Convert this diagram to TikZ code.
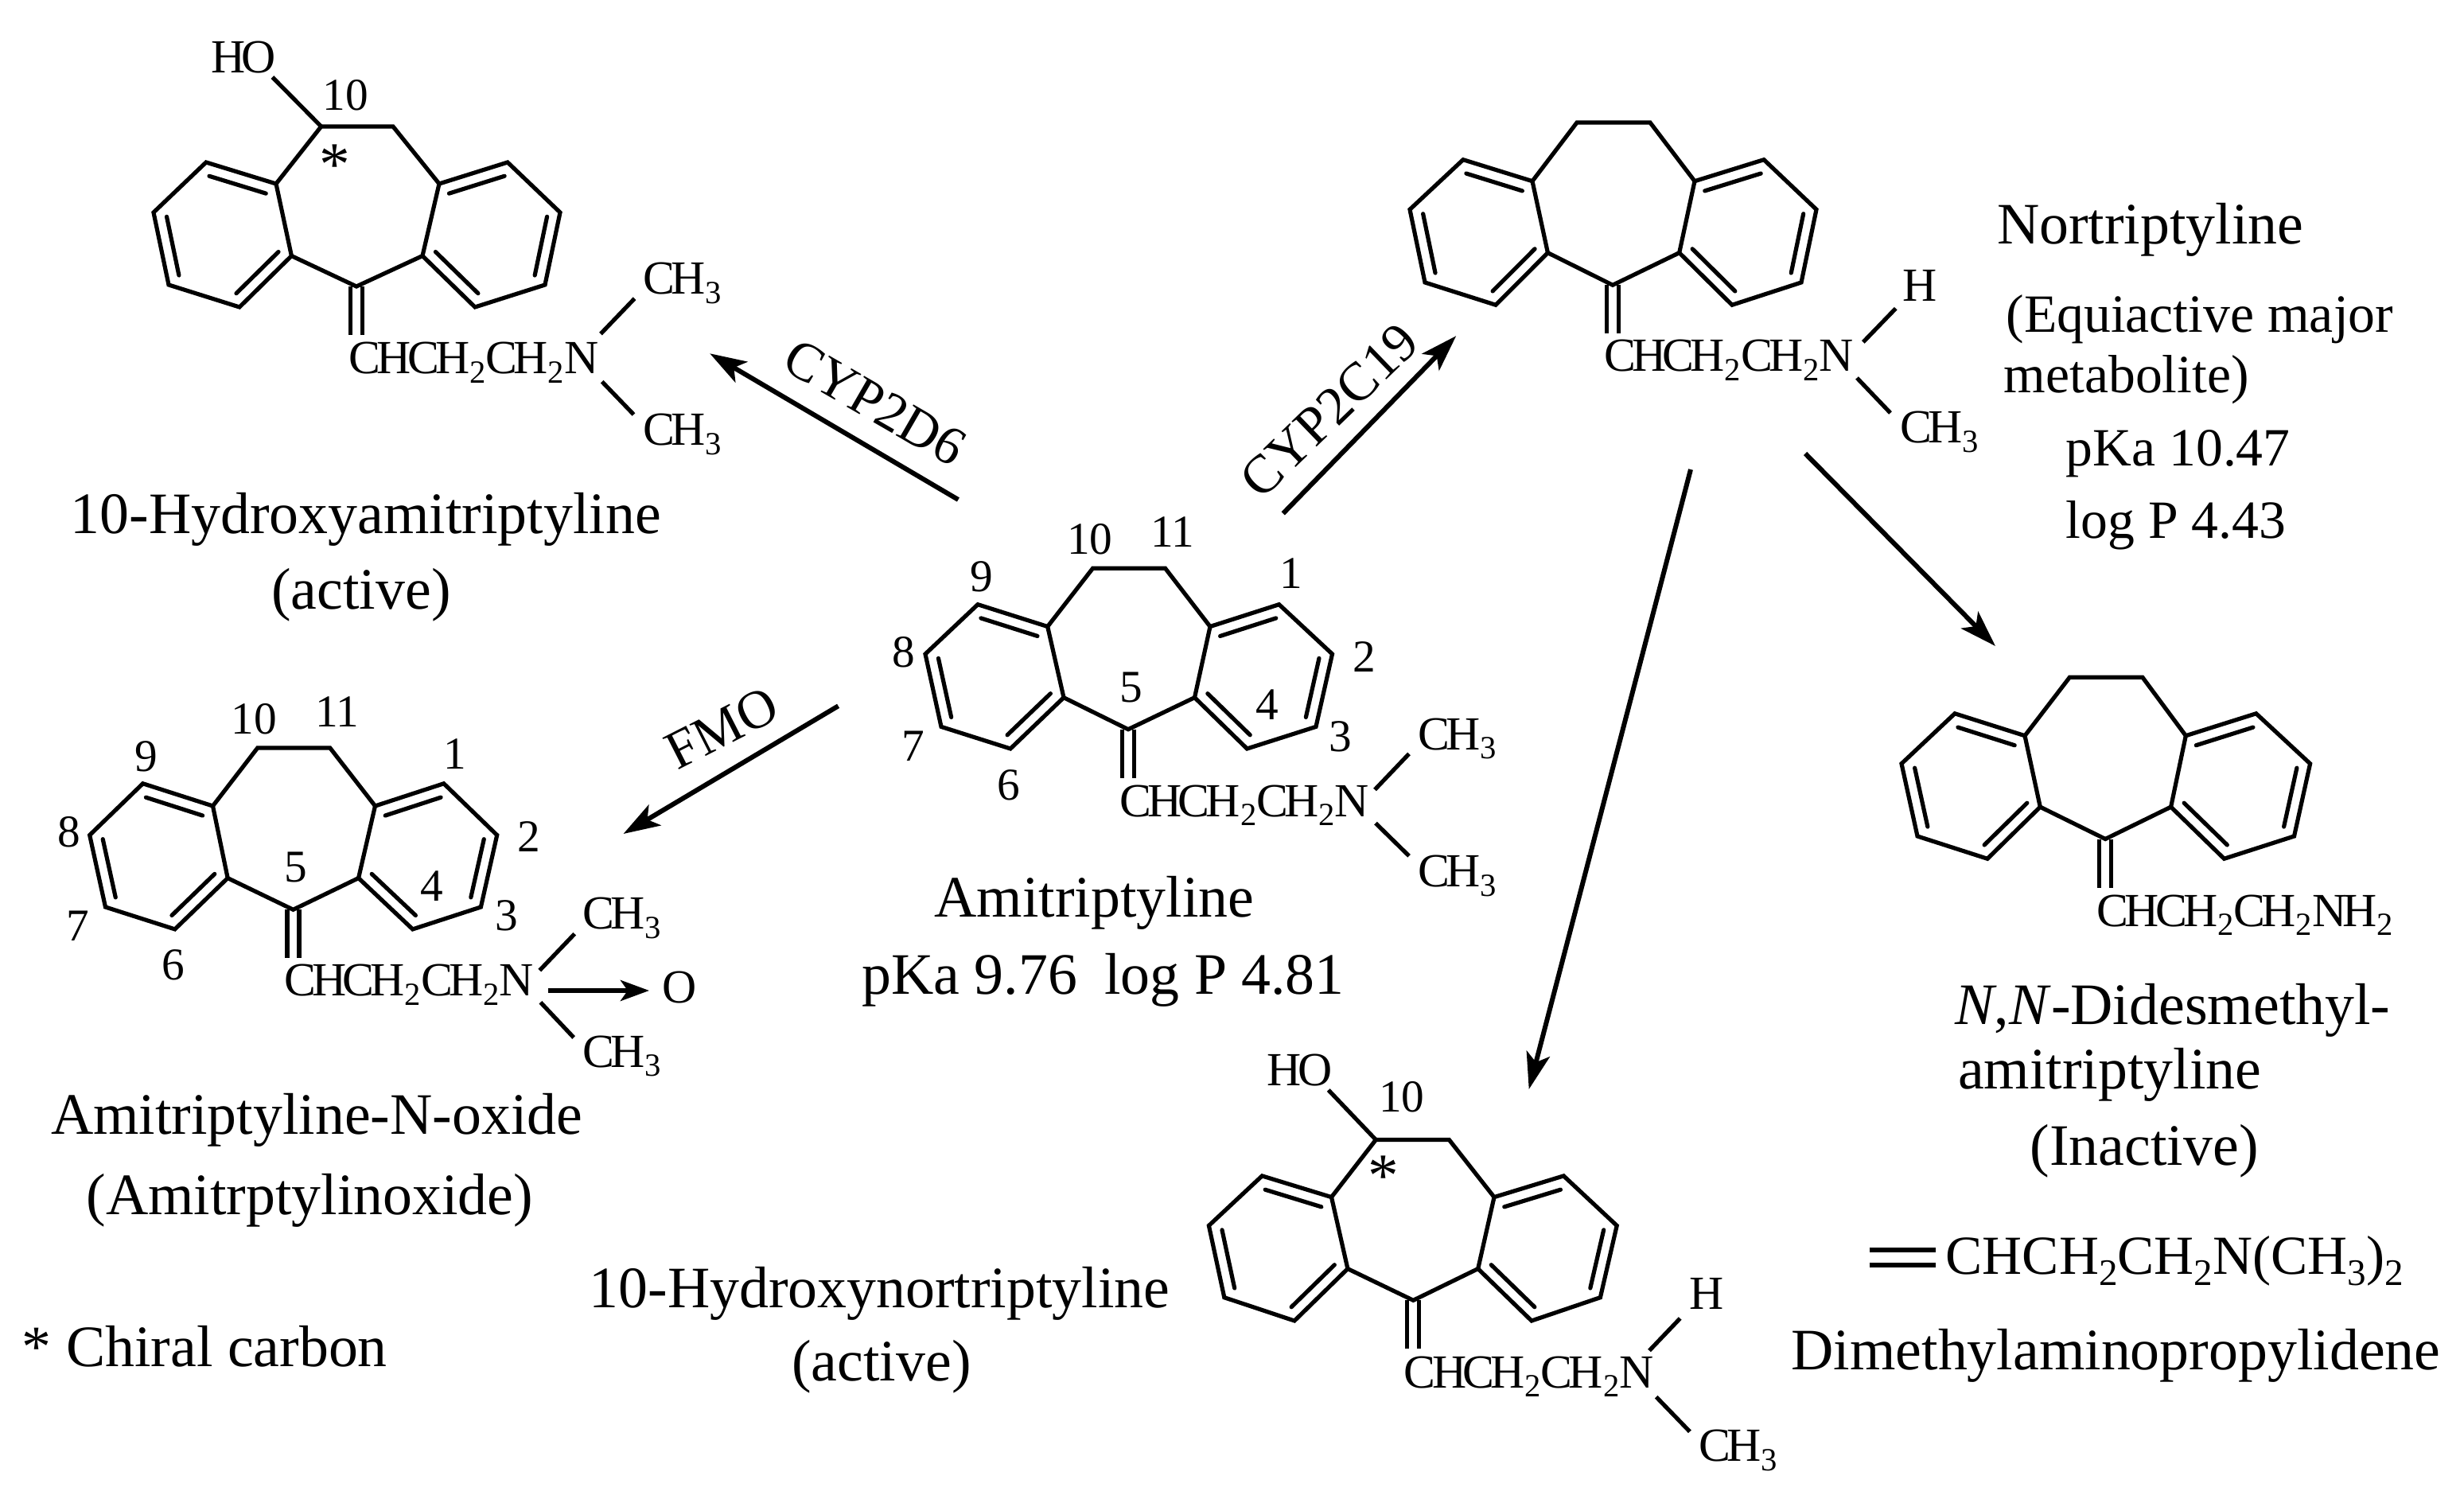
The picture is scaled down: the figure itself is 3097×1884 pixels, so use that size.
\documentclass[tikz,border=0pt]{standalone}
\usepackage{fontspec}
\usepackage{graphicx}
\setmainfont{Liberation Serif}
\newfontfamily\chemfont[LetterSpace=-8]{Liberation Serif}
\usetikzlibrary{arrows.meta,calc}
\newcommand{\ssub}[1]{\raisebox{-.2em}{\scalebox{.68}{#1}}}
\newcommand{\atoms}[2]{\foreach \n/\a/\b in {#2} {\coordinate (#1\n) at (\a,\b);}}
\newcommand{\tricyclic}[1]{%
  \coordinate (#1zl) at ($(#1c9)!.5!(#1c6)$);
  \coordinate (#1zr) at ($(#1c1)!.5!(#1c4)$);
  \draw[bond] (#1c10)--(#1c11)--(#1ru)--(#1c1)--(#1c2)--(#1c3)--(#1c4)--(#1rl)--(#1c5)--(#1ll)--(#1c6)--(#1c7)--(#1c8)--(#1c9)--(#1lu)--cycle;
  \draw[bond] (#1lu)--(#1ll) (#1ru)--(#1rl);
  \foreach \p/\q/\z in {lu/c9/zl,c8/c7/zl,ll/c6/zl,ru/c1/zr,c2/c3/zr,rl/c4/zr}
    {\draw[bond,line cap=round] ($(#1\p)!.19!(#1\z)$) -- ($(#1\q)!.19!(#1\z)$);}
  \draw[bond] ($(#1c5)+(-7.5,0)$) -- ($(#1c5)+(-7.5,61)$) ($(#1c5)+(7.5,0)$) -- ($(#1c5)+(7.5,61)$);
}
\tikzset{
  x=0.1mm,y=-0.1mm,
  bond/.style={line width=0.52mm,line join=miter},
  thinbond/.style={line width=0.52mm},
  rxn/.style={line width=0.6mm,-{Stealth[length=4.6mm,width=3mm,inset=1.1mm]}},
  big/.style={font=\fontsize{21pt}{25pt}\selectfont,inner sep=0pt,anchor=base west},
  mid/.style={font=\fontsize{19.25pt}{23pt}\selectfont,inner sep=0pt,anchor=base west},
  formula/.style={font=\fontsize{19.7pt}{23pt}\selectfont,inner sep=0pt,anchor=base west},
  enz/.style={font=\fontsize{19.4pt}{23pt}\selectfont,inner sep=0pt,anchor=center},
  chem/.style={font=\chemfont\fontsize{17pt}{20pt}\selectfont,inner sep=0pt,anchor=base west},
  num/.style={font=\fontsize{16.3pt}{20pt}\selectfont,inner sep=0pt,anchor=base},
  star/.style={font=\fontsize{22pt}{26pt}\selectfont,inner sep=0pt,anchor=center},
}
\begin{document}
\begin{tikzpicture}
\useasboundingbox (0,0) rectangle (3097,1884);
% --- atoms -----------------------------------------------------------
\atoms{a}{c10/1373.5/714.3,c11/1464.6/714.3,lu/1316.7/787.5,c9/1229/759.7,c8/1163/822,c7/1183/913.4,c6/1270/941,ll/1337/876.7,c5/1418/916.7,rl/1501.5/876.7,c4/1567.4/941,c3/1654/913.4,c2/1674.5/822,c1/1607.6/759.7,ru/1521/787.5}
\atoms{t}{c10/403.7/159,c11/494/159,lu/347/231,c9/259/204,c8/193/267,c7/212/358,c6/301/386,ll/366.4/321.6,c5/448/360,rl/531/321.6,c4/597/386,c3/685/358,c2/704/267,c1/638/204,ru/552/231}
\atoms{n}{c10/1982/154,c11/2074/154,lu/1926/227.7,c9/1839/200.7,c8/1772/263.3,c7/1791/355,c6/1880/383.3,ll/1945.4/317.7,c5/2027/358.3,rl/2110.7/317.7,c4/2177/383.3,c3/2264/355,c2/2283/263.3,c1/2217/200.7,ru/2130/227.7}
\atoms{o}{c10/323.7/940,c11/414.8/940,lu/267.5/1013,c9/179.6/984.8,c8/112.7/1049.6,c7/132.5/1140,c6/219.8/1167.9,ll/286.2/1103.6,c5/368.5/1143.3,rl/450.6/1103.6,c4/518.7/1167.9,c3/604.4/1140,c2/624.7/1049.6,c1/557.8/984.8,ru/471.5/1013}
\atoms{d}{c10/2601.3/851.3,c11/2692.9/851.3,lu/2545/924.7,c9/2457/896.8,c8/2390/959.8,c7/2410/1051,c6/2498/1079.3,ll/2564.3/1014.2,c5/2646.2/1054.5,rl/2728.6/1014.2,c4/2795.5/1079.3,c3/2883.5/1051,c2/2903.6/959.8,c1/2835.7/896.8,ru/2747.3/924.7}
\atoms{h}{c10/1729.3/1432.5,c11/1821.4/1432.5,lu/1673.5/1504.6,c9/1586.3/1477.9,c8/1519.4/1540.4,c7/1538.8/1630.7,c6/1627/1660,ll/1693.9/1594.6,c5/1776.3/1634.3,rl/1857.7/1594.6,c4/1925/1660,c3/2011.4/1630.7,c2/2032.2/1540.4,c1/1965.3/1477.9,ru/1878/1504.6}
\tricyclic{a}\tricyclic{t}\tricyclic{n}\tricyclic{o}\tricyclic{d}\tricyclic{h}
% --- side-chain bond ends ---------------------------------------------
\atoms{b}{aua/1728/992.5,aub/1771/947.4,ala/1729/1034.6,alb/1771/1075.8,
 tua/755/419.6,tub/797.6/375.2,tla/756.7/479.7,tlb/796.5/521,tho/342.4/97,
 nua/2341.8/430,nub/2382.7/387.7,nla/2334/475,nlb/2376/519,
 oua/678.3/1219.6,oub/722.2/1173.7,ola/679.4/1259.8,olb/721.1/1304,oxa/688.5/1245,oxb/816/1245,
 hua/2073/1697.5,hub/2111.7/1657,hla/2081.7/1755.7,hlb/2123.9/1799.3,hho/1669.7/1370,
 eqa/2349.6/1571,eqb/2433/1571,eqc/2349.6/1590,eqd/2433/1590}
\foreach \p/\q in {aua/aub,ala/alb,tua/tub,tla/tlb,nua/nub,nla/nlb,oua/oub,ola/olb,hua/hub,hla/hlb,eqa/eqb,eqc/eqd}
  {\draw[thinbond] (b\p)--(b\q);}
\draw[thinbond] (btho)--(tc10);
\draw[thinbond] (bhho)--(hc10);
\draw[rxn,-{Stealth[length=3.6mm,width=2.6mm,inset=.9mm]}] (boxa)--(boxb);
% --- reaction arrows --------------------------------------------------
\atoms{r}{d6a/1204.4/628,d6b/892.2/444.3,c19a/1612.7/645.4,c19b/1830.2/422.2,fa/1053.6/887.3,fb/783.5/1048,
 na/2269/570,nb/2508/812,ma/2125/590,mb/1921.7/1369}
\draw[rxn] (rd6a)--(rd6b);
\draw[rxn] (rc19a)--(rc19b);
\draw[rxn] (rfa)--(rfb);
\draw[rxn] (rna)--(rnb);
\draw[rxn] (rma)--(rmb);
\node[enz,rotate=-30] (lcyp2d) at (1100,506) {CYP2D6};
\node[enz,rotate=44] (lcyp2c) at (1671,516) {CYP2C19};
\node[enz,rotate=27] (lfmo) at (907,915) {FMO};
% --- amitriptyline ----------------------------------------------------
\node[num] (an10) at (1369.8,697) {10};
\node[num] (an11) at (1473.7,687.3) {11};
\node[num] (an9) at (1233.7,743.3) {9};
\node[num] (an1) at (1622.6,740) {1};
\node[num] (an8) at (1136,838.9) {8};
\node[num] (an2) at (1714.7,844.3) {2};
\node[num] (an5) at (1421.7,883) {5};
\node[num] (an4) at (1592.6,905) {4};
\node[num] (an3) at (1685,944) {3};
\node[num] (an7) at (1148,956.7) {7};
\node[num] (an6) at (1267.5,1005) {6};
\node[chem] (ach) at (1406.7,1026) {CHCH\ssub{2}CH\ssub{2}N};
\node[chem] (ame1) at (1781.7,942) {CH\ssub{3}};
\node[chem] (ame2) at (1781.7,1114.5) {CH\ssub{3}};
\node[big] (aname) at (1173.7,1152.4) {Amitriptyline};
\node[big] (aprop) at (1082.7,1249) {pKa 9.76\hspace{9.8pt}log P 4.81};
% --- 10-hydroxyamitriptyline ------------------------------------------
\node[chem] (tho) at (264.4,91.2) {HO};
\node[num] (tn10) at (434.3,139) {10};
\node[star] (tstar) at (421,207) {*};
\node[chem] (tch) at (437.9,470) {CHCH\ssub{2}CH\ssub{2}N};
\node[chem] (tme1) at (807.8,369.8) {CH\ssub{3}};
\node[chem] (tme2) at (807.8,560) {CH\ssub{3}};
\node[big] (tname) at (88,671) {10-Hydroxyamitriptyline};
\node[big,anchor=base] (tact) at (454,766) {(active)};
% --- nortriptyline ----------------------------------------------------
\node[chem] (nh) at (2390.3,378.3) {H};
\node[chem] (nch) at (2015.3,466.7) {CHCH\ssub{2}CH\ssub{2}N};
\node[chem] (nme) at (2387.8,556.7) {CH\ssub{3}};
\node[big] (nname) at (2509.3,306.5) {Nortriptyline};
\node[mid] (neq) at (2520.8,418) {(Equiactive major};
\node[mid] (nmet) at (2518,494) {metabolite)};
\node[mid] (npka) at (2596,585.7) {pKa 10.47};
\node[mid] (nlog) at (2596,677) {log P 4.43};
% --- amitriptyline-N-oxide --------------------------------------------
\node[num] (on10) at (319.4,922.3) {10};
\node[num] (on11) at (423.9,913.8) {11};
\node[num] (on9) at (183.9,969.6) {9};
\node[num] (on1) at (572.2,966) {1};
\node[num] (on8) at (86.4,1064.3) {8};
\node[num] (on2) at (664.9,1070) {2};
\node[num] (on5) at (371.9,1108) {5};
\node[num] (on4) at (542.8,1132) {4};
\node[num] (on3) at (636.5,1169) {3};
\node[num] (on7) at (98.2,1182.6) {7};
\node[num] (on6) at (217.6,1231.7) {6};
\node[chem] (och) at (356.4,1251.8) {CHCH\ssub{2}CH\ssub{2}N};
\node[chem] (ome1) at (731.3,1167.9) {CH\ssub{3}};
\node[chem] (ome2) at (731.3,1341) {CH\ssub{3}};
\node[chem] (oox) at (832,1260.7) {O};
\node[big] (oname) at (63.4,1425.9) {Amitriptyline-N-oxide};
\node[big] (oalt) at (107.8,1526) {(Amitrptylinoxide)};
% --- N,N-didesmethylamitriptyline -------------------------------------
\node[chem] (dch) at (2634.8,1164) {CHCH\ssub{2}CH\ssub{2}NH\ssub{2}};
\node[big] (dname) at (2457,1287) {\textit{N},\textit{N}-Didesmethyl-};
\node[big] (dname2) at (2460.4,1368) {amitriptyline};
\node[big] (dina) at (2551,1464.7) {(Inactive)};
\node[formula] (dform) at (2445,1601.8) {CHCH\ssub{2}CH\ssub{2}N(CH\ssub{3})\ssub{2}};
\node[big] (dgrp) at (2250.8,1721.8) {Dimethylaminopropylidene};
% --- 10-hydroxynortriptyline ------------------------------------------
\node[chem] (hho) at (1592,1364.6) {HO};
\node[num] (hn10) at (1761.7,1397.5) {10};
\node[star] (hstar) at (1738.5,1478) {*};
\node[chem] (hch) at (1764.2,1744) {CHCH\ssub{2}CH\ssub{2}N};
\node[chem] (hh) at (2122.9,1645.7) {H};
\node[chem] (hme) at (2135,1836.8) {CH\ssub{3}};
\node[big] (hname) at (740,1643) {10-Hydroxynortriptyline};
\node[big,anchor=base] (hact) at (1108,1735) {(active)};
\node[big] (legend) at (27,1717) {* Chiral carbon};
\end{tikzpicture}
\end{document}
